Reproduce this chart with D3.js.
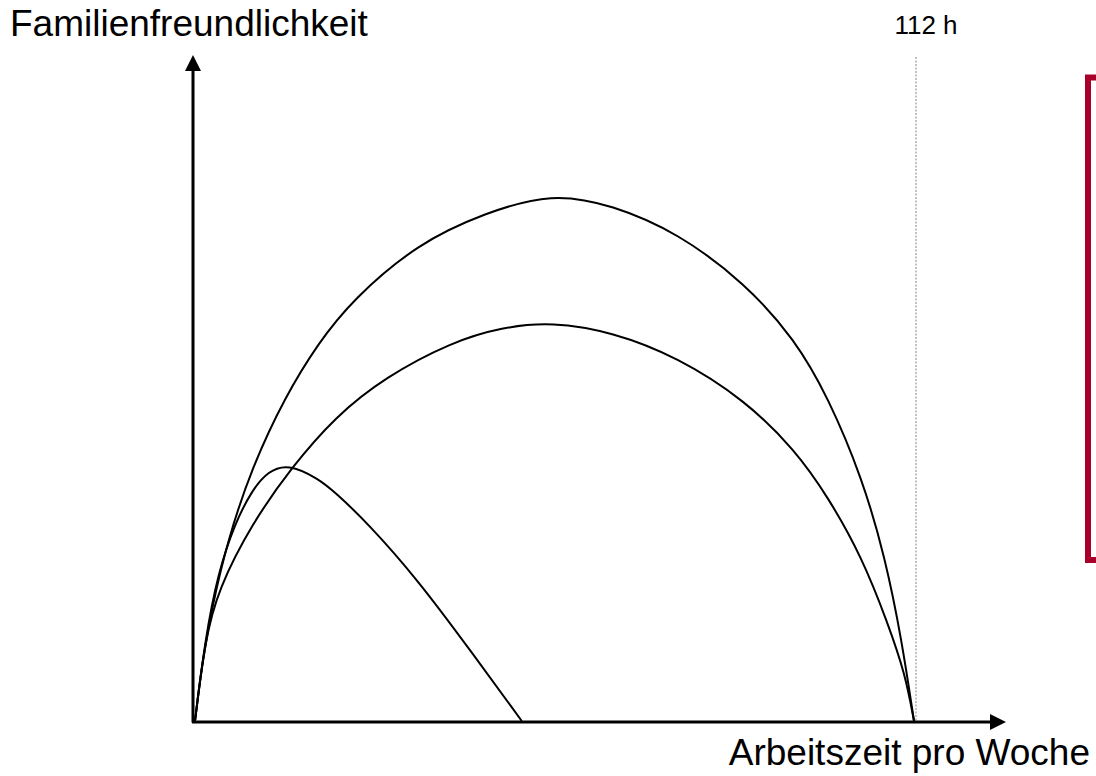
<!DOCTYPE html>
<html>
<head>
<meta charset="utf-8">
<script src="https://cdn.jsdelivr.net/npm/d3@7"></script>
<style>
  body { margin: 0; background: #fff; }
  svg text { font-family: "Liberation Sans", Arial, sans-serif; fill: #000; }
</style>
</head>
<body>
<div id="canvas"></div>
<script>
// hours per week vs. family friendliness (arbitrary units 0-100)
const outerHours = [0, 1.1, 2.65, 5.1, 8.9, 14, 19.2, 24.5, 34.7, 45.2, 55.6, 65, 75.2, 85.7, 93.5, 98.6, 103.9, 107.5, 110.1, 112];
const outerValues = [0, 11, 21.7, 34.5, 48.4, 61.7, 72, 80.2, 91, 96.8, 100.6, 98.3, 93, 83.4, 72.6, 61.7, 46.4, 31.2, 15.4, 0];

const middleHours = [0, 1.56, 3.58, 8.9, 15.1, 21.8, 29.6, 40, 47.8, 55.6, 65, 75.2, 85.7, 93.5, 98.6, 103.9, 107.9, 110.6, 112];
const middleValues = [0, 15.4, 25, 37.7, 48.4, 57.9, 65.5, 72.2, 75, 76, 74.1, 69.3, 61.1, 51.6, 42.7, 31.2, 18.7, 9.1, 0];

const smallHours = [0, 1.56, 3.58, 6.23, 8.9, 11.4, 14.5, 19.2, 21.8, 26.9, 34.7, 42.5, 50.9];
const smallValues = [0, 15.4, 28.2, 37.7, 44, 47.6, 49, 46.2, 43.6, 37.7, 26.9, 14.1, 0];

const maxHours = 112;
const yLabel = 'Familienfreundlichkeit';
const xLabel = 'Arbeitszeit pro Woche';
const maxLabel = '112 h';

const w = 1096;
const h = 776;

const xScale = d3.scaleLinear().domain([0, maxHours]).range([195, 914]);
const yScale = d3.scaleLinear().domain([0, 100]).range([721, 196]);

const svg = d3.select('#canvas')
  .append('svg')
  .attr('width', w)
  .attr('height', h);

const x0 = xScale(0), y0 = yScale(0);

// dotted 112 h marker
svg.append('line')
  .attr('x1', xScale(maxHours) + 2).attr('x2', xScale(maxHours) + 2)
  .attr('y1', 57).attr('y2', y0)
  .attr('stroke', '#b0b0b0')
  .attr('stroke-width', 1.5)
  .attr('stroke-dasharray', '2,1.5');

svg.append('text')
  .attr('x', xScale(maxHours) + 12)
  .attr('y', 34)
  .attr('text-anchor', 'middle')
  .style('font-size', '26px')
  .text(maxLabel);

// axes
svg.append('line')
  .attr('x1', x0 - 2).attr('x2', x0 - 2)
  .attr('y1', y0 + 1.5).attr('y2', 68)
  .attr('stroke', '#000').attr('stroke-width', 3);
svg.append('path')
  .attr('d', `M${x0 - 2},55 L${x0 - 10},71 L${x0 + 6},71 Z`)
  .attr('fill', '#000');

svg.append('line')
  .attr('x1', x0 - 3).attr('x2', 992)
  .attr('y1', y0 + 1).attr('y2', y0 + 1)
  .attr('stroke', '#000').attr('stroke-width', 3);
svg.append('path')
  .attr('d', `M1006,${y0 + 1} L990,${y0 - 7} L990,${y0 + 9} Z`)
  .attr('fill', '#000');

// curves
const line = d3.line()
  .x(d => xScale(d[0]))
  .y(d => yScale(d[1]))
  .curve(d3.curveBasis);

const series = [
  d3.zip(outerHours, outerValues),
  d3.zip(middleHours, middleValues),
  d3.zip(smallHours, smallValues)
];

svg.selectAll('path.curve')
  .data(series)
  .enter()
  .append('path')
  .attr('class', 'curve')
  .attr('d', line)
  .attr('fill', 'none')
  .attr('stroke', '#000')
  .attr('stroke-width', 2);

// labels
svg.append('text')
  .attr('x', 10)
  .attr('y', 36)
  .style('font-size', '37px')
  .text(yLabel);

svg.append('text')
  .attr('x', 1090)
  .attr('y', 765)
  .attr('text-anchor', 'end')
  .style('font-size', '37px')
  .text(xLabel);

// red bracket on the right
svg.append('path')
  .attr('d', 'M1100,77.5 H1088 V560 H1100')
  .attr('fill', 'none')
  .attr('stroke', '#a8002a')
  .attr('stroke-width', 6);
</script>
</body>
</html>
